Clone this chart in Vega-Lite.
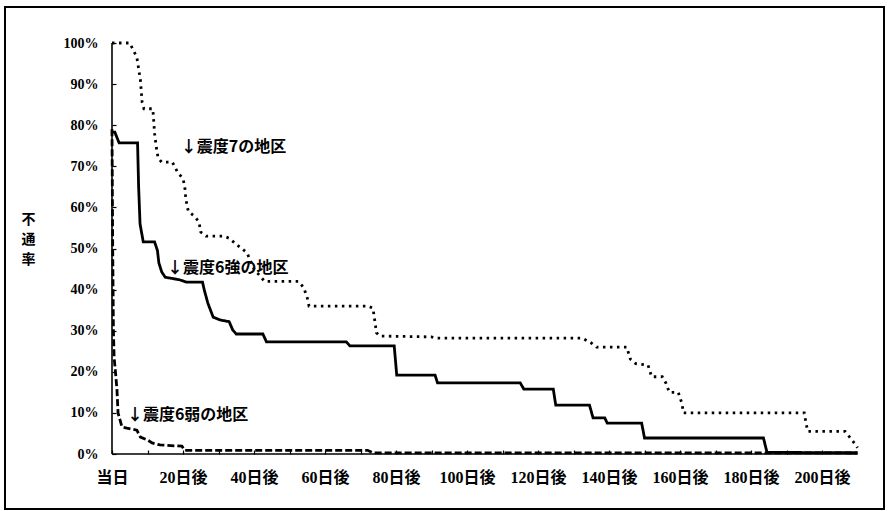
{
  "$schema": "https://vega.github.io/schema/vega-lite/v6.json",
  "width": 879,
  "height": 502,
  "autosize": {"type": "none"},
  "padding": {"left": 5, "top": 7, "right": 5, "bottom": 2},
  "background": "white",
  "config": {
    "view": {"stroke": "black", "strokeWidth": 2},
    "axis": {"grid": false, "domain": false}
  },
  "datasets": {
    "lines": [
      {"s": "7", "d": 0, "v": 1.0}, {"s": "7", "d": 5, "v": 1.0}, {"s": "7", "d": 7, "v": 0.965}, {"s": "7", "d": 8, "v": 0.91},
      {"s": "7", "d": 8.5, "v": 0.855}, {"s": "7", "d": 9, "v": 0.84}, {"s": "7", "d": 11.5, "v": 0.84}, {"s": "7", "d": 12, "v": 0.78},
      {"s": "7", "d": 12.5, "v": 0.745}, {"s": "7", "d": 13, "v": 0.72}, {"s": "7", "d": 14, "v": 0.71}, {"s": "7", "d": 17, "v": 0.71},
      {"s": "7", "d": 18.5, "v": 0.685}, {"s": "7", "d": 20, "v": 0.67}, {"s": "7", "d": 20.5, "v": 0.65}, {"s": "7", "d": 20.8, "v": 0.62},
      {"s": "7", "d": 21.5, "v": 0.59}, {"s": "7", "d": 23, "v": 0.58}, {"s": "7", "d": 24.5, "v": 0.565}, {"s": "7", "d": 25, "v": 0.54},
      {"s": "7", "d": 26.5, "v": 0.53}, {"s": "7", "d": 31.5, "v": 0.53}, {"s": "7", "d": 33, "v": 0.525}, {"s": "7", "d": 35, "v": 0.51},
      {"s": "7", "d": 36.5, "v": 0.5}, {"s": "7", "d": 38, "v": 0.49}, {"s": "7", "d": 40, "v": 0.45}, {"s": "7", "d": 43, "v": 0.42},
      {"s": "7", "d": 52.5, "v": 0.42}, {"s": "7", "d": 54, "v": 0.405}, {"s": "7", "d": 55, "v": 0.38}, {"s": "7", "d": 55.5, "v": 0.36},
      {"s": "7", "d": 72, "v": 0.36}, {"s": "7", "d": 73.5, "v": 0.355}, {"s": "7", "d": 74, "v": 0.326}, {"s": "7", "d": 74.5, "v": 0.295},
      {"s": "7", "d": 75.5, "v": 0.287}, {"s": "7", "d": 90, "v": 0.285}, {"s": "7", "d": 91, "v": 0.282}, {"s": "7", "d": 132.5, "v": 0.282},
      {"s": "7", "d": 135, "v": 0.27}, {"s": "7", "d": 136.5, "v": 0.26}, {"s": "7", "d": 145, "v": 0.26}, {"s": "7", "d": 146, "v": 0.231},
      {"s": "7", "d": 147.5, "v": 0.22}, {"s": "7", "d": 151, "v": 0.216}, {"s": "7", "d": 152, "v": 0.188}, {"s": "7", "d": 155, "v": 0.188},
      {"s": "7", "d": 156, "v": 0.173}, {"s": "7", "d": 157, "v": 0.15}, {"s": "7", "d": 159.5, "v": 0.15}, {"s": "7", "d": 160.5, "v": 0.124},
      {"s": "7", "d": 161, "v": 0.1}, {"s": "7", "d": 195, "v": 0.1}, {"s": "7", "d": 195.5, "v": 0.075}, {"s": "7", "d": 196, "v": 0.055},
      {"s": "7", "d": 206.5, "v": 0.055}, {"s": "7", "d": 208, "v": 0.039}, {"s": "7", "d": 209.5, "v": 0.022}, {"s": "7", "d": 210, "v": 0.015},

      {"s": "6強", "d": 0, "v": 0.783}, {"s": "6強", "d": 0.8, "v": 0.783}, {"s": "6強", "d": 2, "v": 0.757}, {"s": "6強", "d": 7.2, "v": 0.757},
      {"s": "6強", "d": 7.5, "v": 0.65}, {"s": "6強", "d": 7.9, "v": 0.56}, {"s": "6強", "d": 8.8, "v": 0.516}, {"s": "6強", "d": 12, "v": 0.516},
      {"s": "6強", "d": 12.8, "v": 0.495}, {"s": "6強", "d": 13.2, "v": 0.465}, {"s": "6強", "d": 14, "v": 0.443}, {"s": "6強", "d": 15, "v": 0.43},
      {"s": "6強", "d": 19, "v": 0.424}, {"s": "6強", "d": 21, "v": 0.418}, {"s": "6強", "d": 25.5, "v": 0.418}, {"s": "6強", "d": 26, "v": 0.399},
      {"s": "6強", "d": 27, "v": 0.367}, {"s": "6強", "d": 28.5, "v": 0.333}, {"s": "6強", "d": 30.5, "v": 0.326}, {"s": "6強", "d": 33, "v": 0.322},
      {"s": "6強", "d": 34, "v": 0.302}, {"s": "6強", "d": 35, "v": 0.292}, {"s": "6強", "d": 42.5, "v": 0.292}, {"s": "6強", "d": 43.5, "v": 0.273},
      {"s": "6強", "d": 66, "v": 0.273}, {"s": "6強", "d": 67, "v": 0.263}, {"s": "6強", "d": 79.5, "v": 0.263}, {"s": "6強", "d": 80.2, "v": 0.192},
      {"s": "6強", "d": 91, "v": 0.192}, {"s": "6強", "d": 91.7, "v": 0.173}, {"s": "6強", "d": 115, "v": 0.173}, {"s": "6強", "d": 116, "v": 0.158},
      {"s": "6強", "d": 124.3, "v": 0.158}, {"s": "6強", "d": 125, "v": 0.119}, {"s": "6強", "d": 134.5, "v": 0.119}, {"s": "6強", "d": 135.5, "v": 0.088},
      {"s": "6強", "d": 138.8, "v": 0.088}, {"s": "6強", "d": 139.5, "v": 0.075}, {"s": "6強", "d": 149.2, "v": 0.075}, {"s": "6強", "d": 150, "v": 0.039},
      {"s": "6強", "d": 183.5, "v": 0.039}, {"s": "6強", "d": 184.5, "v": 0.004}, {"s": "6強", "d": 210, "v": 0.003},

      {"s": "6弱", "d": 0, "v": 0.79}, {"s": "6弱", "d": 0.2, "v": 0.5}, {"s": "6弱", "d": 0.4, "v": 0.3}, {"s": "6弱", "d": 0.6, "v": 0.235},
      {"s": "6弱", "d": 1, "v": 0.197}, {"s": "6弱", "d": 1.4, "v": 0.156}, {"s": "6弱", "d": 1.7, "v": 0.1}, {"s": "6弱", "d": 2.8, "v": 0.066},
      {"s": "6弱", "d": 4.2, "v": 0.063}, {"s": "6弱", "d": 7, "v": 0.058}, {"s": "6弱", "d": 8, "v": 0.041}, {"s": "6弱", "d": 10, "v": 0.034},
      {"s": "6弱", "d": 11.3, "v": 0.027}, {"s": "6弱", "d": 13.5, "v": 0.022}, {"s": "6弱", "d": 19.7, "v": 0.019}, {"s": "6弱", "d": 20.5, "v": 0.009},
      {"s": "6弱", "d": 72, "v": 0.009}, {"s": "6弱", "d": 73.5, "v": 0.003}, {"s": "6弱", "d": 210, "v": 0.003}
    ],
    "notes": [
      {"d": 19.4, "v": 0.747, "t": "↓震度7の地区"},
      {"d": 15.5, "v": 0.453, "t": "↓震度6強の地区"},
      {"d": 4.2, "v": 0.095, "t": "↓震度6弱の地区"}
    ],
    "axes": [
      {"d": 0, "d2": 0, "v": 0, "v2": 1},
      {"d": 0, "d2": 210, "v": 0, "v2": 0}
    ]
  },
  "layer": [
    {
      "data": {"name": "axes"},
      "mark": {"type": "rule", "color": "black", "strokeWidth": 1.6},
      "encoding": {
        "x": {
          "field": "d", "type": "quantitative",
          "scale": {"domain": [-30.14, 217.46], "nice": false, "zero": false},
          "axis": {
            "orient": "bottom", "offset": -55, "title": null,
            "values": [0, 10, 20, 30, 40, 50, 60, 70, 80, 90, 100, 110, 120, 130, 140, 150, 160, 170, 180, 190, 200],
            "labelExpr": "datum.value == 0 ? '当日' : (datum.value % 20 == 0 ? datum.value + '日後' : '')",
            "tickSize": -4, "tickColor": "black", "tickWidth": 1.2,
            "labelPadding": 19, "labelFont": "'Liberation Serif', 'Noto Sans CJK JP'", "labelFontWeight": "bold",
            "labelFontSize": 16, "labelColor": "black", "labelOverlap": false, "labelFlush": false
          }
        },
        "x2": {"field": "d2"},
        "y": {
          "field": "v", "type": "quantitative",
          "scale": {"domain": [-0.1338, 1.0876], "nice": false, "zero": false},
          "axis": {
            "orient": "left", "offset": -107,
            "values": [0, 0.1, 0.2, 0.3, 0.4, 0.5, 0.6, 0.7, 0.8, 0.9, 1.0],
            "format": ".0%",
            "tickSize": -4, "tickColor": "black", "tickWidth": 1.2,
            "labelPadding": 18, "labelFont": "'Liberation Serif'", "labelFontWeight": "bold",
            "labelFontSize": 14, "labelColor": "black", "labelOverlap": false, "labelFlush": false,
            "title": ["不", "通", "率"], "titleAngle": 0, "titleFont": "Noto Sans CJK JP", "titleFontWeight": "bold",
            "titleFontSize": 14, "titleLineHeight": 20, "titleColor": "black",
            "titleX": -84, "titleY": 205, "titleAlign": "center", "titleBaseline": "top"
          }
        },
        "y2": {"field": "v2"}
      }
    },
    {
      "data": {"name": "lines"},
      "mark": {"type": "line", "color": "black", "strokeWidth": 2.8, "interpolate": "linear"},
      "encoding": {
        "x": {"field": "d", "type": "quantitative"},
        "y": {"field": "v", "type": "quantitative"},
        "detail": {"field": "s"},
        "strokeDash": {
          "field": "s", "type": "nominal",
          "scale": {"domain": ["7", "6強", "6弱"], "range": [[2.5, 4.5], [1, 0], [7, 3]]},
          "legend": null
        }
      }
    },
    {
      "data": {"name": "notes"},
      "mark": {"type": "text", "align": "left", "baseline": "middle", "font": "Noto Sans CJK JP", "fontWeight": "bold", "fontSize": 16, "color": "black"},
      "encoding": {
        "x": {"field": "d", "type": "quantitative"},
        "y": {"field": "v", "type": "quantitative"},
        "text": {"field": "t"}
      }
    }
  ]
}
